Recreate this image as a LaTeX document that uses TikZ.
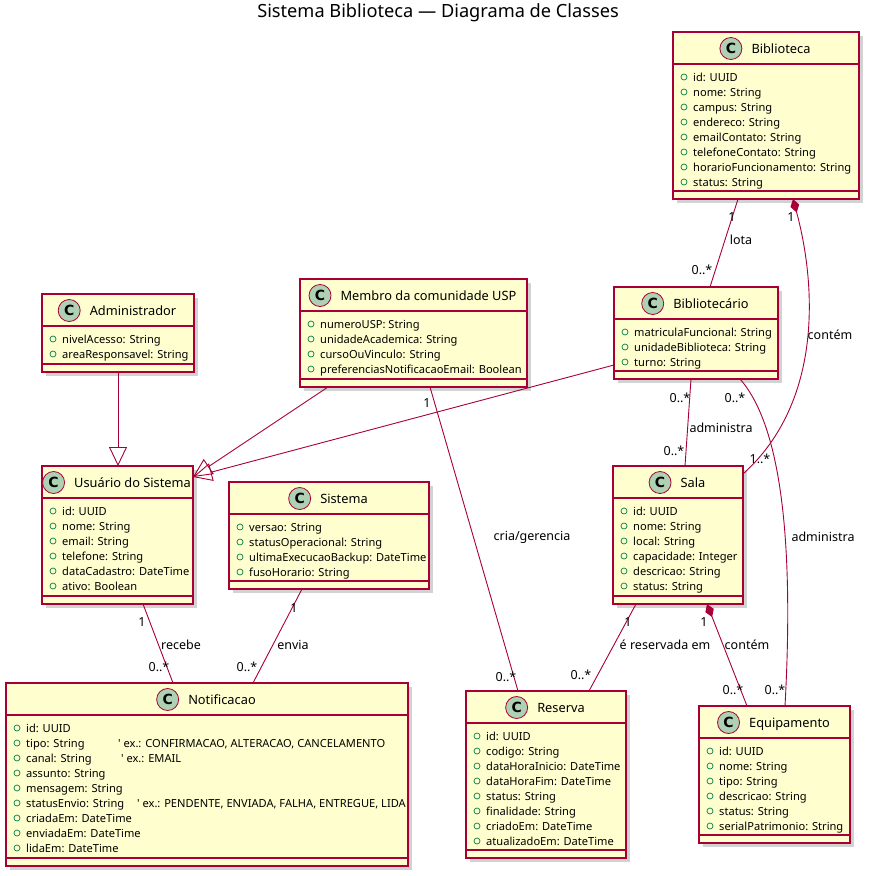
\documentclass[tikz,border=0pt]{standalone}
\usepackage{fontspec}
\setmainfont{Noto Sans}[Ligatures=TeXOff]
\newfontfamily\fonteicone{DejaVu Sans}
\usetikzlibrary{positioning,calc,shadows,arrows.meta}

\definecolor{umlborda}{HTML}{A80036}
\definecolor{umlfundo}{HTML}{FEFECE}
\definecolor{umlicone}{HTML}{ADD1B2}
\definecolor{umlmarca}{HTML}{038048}

\tikzset{
  classe/.style={draw=umlborda, fill=umlfundo, line width=1.2pt, inner sep=0pt, outer sep=0pt, anchor=north west,
    drop shadow={shadow xshift=4pt, shadow yshift=-4pt, opacity=0.25, fill=black!70}},
  divisa/.style={draw=umlborda, line width=1.2pt},
  icone/.style={circle, draw=umlborda, fill=umlicone, line width=0.8pt, minimum size=22pt, inner sep=0pt,
    font=\fonteicone\bfseries\fontsize{14}{14}\selectfont},
  nome/.style={inner sep=0pt, text height=9pt, text depth=0pt, font=\fontsize{12.8}{14}\selectfont},
  marca/.style={circle, draw=umlmarca, line width=0.7pt, minimum size=6pt, inner sep=0pt},
  atributo/.style={anchor=west, inner sep=0pt, text height=8pt, text depth=0pt, font=\fontsize{11.1}{12}\selectfont},
  assoc/.style={draw=umlborda, line width=0.9pt},
  heranca/.style={assoc, -{Triangle[open, length=19pt, width=18pt]}},
  composicao/.style={assoc, {Diamond[length=14pt, width=9pt]}-},
  rotulo/.style={inner sep=0pt, font=\fontsize{12.5}{14}\selectfont},
  titulo/.style={inner sep=0pt, font=\fontsize{18.2}{20}\selectfont},
}

% #1 no, #2 posicao, #3 largura, #4 altura, #5 nome da classe, #6 atributos
\newcommand{\classeuml}[6]{%
  \node[classe, minimum width=#3pt, minimum height=#4pt] (#1) at #2 {};
  \draw[divisa] ($(#1.north west)+(0,32)$) -- ($(#1.north east)+(0,32)$);
  \draw[divisa] ($(#1.south west)+(0,-8)$) -- ($(#1.south east)+(0,-8)$);
  \node[nome] (#1-nome) at ($(#1.north)+(15,16.5)$) {#5};
  \node[icone, left=9pt of #1-nome] (#1-icone) {C};
  \foreach \texto [count=\linha] in {#6} {
    \node[marca] (#1-m\linha) at ($(#1.north west)+(11,30+15*\linha)$) {};
    \node[atributo] (#1-a\linha) at ($(#1.north west)+(20,30+15*\linha)$) {\texto};
  }
}

\begin{document}
\begin{tikzpicture}[x=1pt, y=-1pt]
  \useasboundingbox[fill=white] (0,0) rectangle (869,876);

  \node[titulo] (titulo) at (438,13) {Sistema Biblioteca — Diagrama de Classes};

  % classes
  \classeuml{biblioteca}{(673,32)}{186}{167}{Biblioteca}
    {id: UUID, nome: String, campus: String, endereco: String, emailContato: String,
     telefoneContato: String, horarioFuncionamento: String, status: String}
  \classeuml{administrador}{(42,294)}{152}{78}{Administrador}
    {nivelAcesso: String, areaResponsavel: String}
  \classeuml{membro}{(300,279)}{227}{108}{Membro da comunidade USP}
    {numeroUSP: String, unidadeAcademica: String, cursoOuVinculo: String,
     preferenciasNotificacaoEmail: Boolean}
  \classeuml{bibliotecario}{(614,287)}{164}{92}{Bibliotecário}
    {matriculaFuncional: String, unidadeBiblioteca: String, turno: String}
  \classeuml{usuario}{(42,466)}{151}{138}{Usuário do Sistema}
    {id: UUID, nome: String, email: String, telefone: String, dataCadastro: DateTime, ativo: Boolean}
  \classeuml{sistema}{(229,482)}{200}{107}{Sistema}
    {versao: String, statusOperacional: String, ultimaExecucaoBackup: DateTime, fusoHorario: String}
  \classeuml{sala}{(613,466)}{130}{138}{Sala}
    {id: UUID, nome: String, local: String, capacidade: Integer, descricao: String, status: String}
  \classeuml{notificacao}{(6,683)}{402}{183}{Notificacao}
    {id: UUID,
     {\makebox[92pt][l]{tipo: String}' ex.: CONFIRMACAO, ALTERACAO, CANCELAMENTO},
     {\makebox[95pt][l]{canal: String}' ex.: EMAIL},
     assunto: String, mensagem: String,
     {\makebox[111pt][l]{statusEnvio: String}' ex.: PENDENTE, ENVIADA, FALHA, ENTREGUE, LIDA},
     criadaEm: DateTime, enviadaEm: DateTime, lidaEm: DateTime}
  \classeuml{reserva}{(466,691)}{160}{167}{Reserva}
    {id: UUID, codigo: String, dataHoraInicio: DateTime, dataHoraFim: DateTime, status: String,
     finalidade: String, criadoEm: DateTime, atualizadoEm: DateTime}
  \classeuml{equipamento}{(699,706)}{151}{137}{Equipamento}
    {id: UUID, nome: String, tipo: String, descricao: String, status: String, serialPatrimonio: String}

  % heranca
  \draw[heranca] ($(administrador.south west)+(76,0)$) -- ($(usuario.north west)+(76,0)$);
  \draw[heranca] ($(membro.south west)+(28,0)$) -- ($(usuario.north east)+(0,11)$);
  \draw[heranca] ($(bibliotecario.south west)+(0,-14)$) -- ($(usuario.north east)+(0,11)$);

  % associacoes
  \draw[assoc] ($(biblioteca.south west)+(65,0)$) -- ($(bibliotecario.north west)+(96,0)$);
  \draw[composicao] ($(biblioteca.south west)+(120,0)$) .. controls +(22,81) and +(82,-74) .. ($(sala.north east)+(0,8)$);
  \draw[assoc] ($(bibliotecario.south west)+(77,0)$) -- ($(sala.north west)+(72,0)$);
  \draw[assoc] ($(bibliotecario.south west)+(126,0)$) .. controls +(45,51) and +(8,-146) .. ($(equipamento.north west)+(86,0)$);
  \draw[assoc] ($(sala.south west)+(23,0)$) -- ($(reserva.north west)+(123,0)$);
  \draw[composicao] ($(sala.south west)+(94,0)$) -- ($(equipamento.north west)+(48,0)$);
  \draw[assoc] ($(membro.south west)+(130,0)$) -- ($(reserva.north west)+(52,0)$);
  \draw[assoc] ($(usuario.south west)+(101,0)$) -- ($(notificacao.north west)+(167,0)$);
  \draw[assoc] ($(sistema.south west)+(73,0)$) -- ($(notificacao.north west)+(247,0)$);

  % rotulos e multiplicidades
  \node[rotulo] (lota-1) at (732,217) {1};
  \node[rotulo] (lota) at (741,240) {lota};
  \node[rotulo] (lota-n) at (702,270) {0..*};
  \node[rotulo] (contem-1) at (791,217) {1};
  \node[rotulo] (contem) at (830,335) {contém};
  \node[rotulo] (contem-n) at (760,459) {1..*};
  \node[rotulo] (admsala-a) at (680,398) {0..*};
  \node[rotulo] (admsala) at (721,428) {administra};
  \node[rotulo] (admsala-b) at (674,451) {0..*};
  \node[rotulo] (admequip-a) at (735,398) {0..*};
  \node[rotulo] (admequip) at (823,537) {administra};
  \node[rotulo] (admequip-b) at (775,690) {0..*};
  \node[rotulo] (reservada-1) at (628,622) {1};
  \node[rotulo] (reservada) at (665,645) {é reservada em};
  \node[rotulo] (reservada-n) at (581,675) {0..*};
  \node[rotulo] (contem2-1) at (704,622) {1};
  \node[rotulo] (contem2) at (747,645) {contém};
  \node[rotulo] (contem2-n) at (733,690) {0..*};
  \node[rotulo] (cria-1) at (427,403) {1};
  \node[rotulo] (cria) at (532,537) {cria/gerencia};
  \node[rotulo] (cria-n) at (506,677) {0..*};
  \node[rotulo] (recebe-1) at (142,622) {1};
  \node[rotulo] (recebe) at (181,645) {recebe};
  \node[rotulo] (recebe-n) at (159,667) {0..*};
  \node[rotulo] (envia-1) at (294,608) {1};
  \node[rotulo] (envia) at (293,645) {envia};
  \node[rotulo] (envia-n) at (247,667) {0..*};
\end{tikzpicture}
\end{document}
